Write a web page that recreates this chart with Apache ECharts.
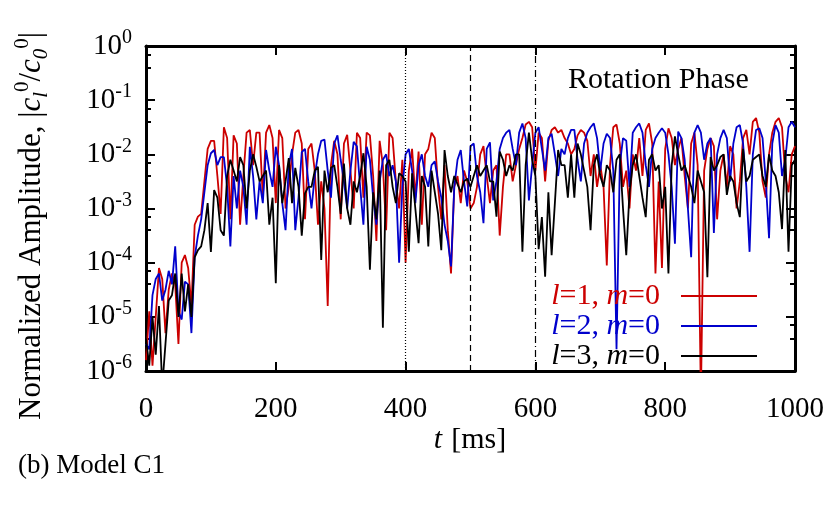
<!DOCTYPE html>
<html>
<head>
<meta charset="utf-8">
<title>Model C1</title>
<script src="https://cdn.jsdelivr.net/npm/echarts@6/dist/echarts.min.js"></script>
<style>
  html, body { margin: 0; padding: 0; background: #fff; }
  #chart { width: 830px; height: 506px; }
</style>
</head>
<body>
<div id="chart"></div>
<script>
// log10 |c_l^0 / c_0^0|, every 5 ms (t = 0 ... 1000)
const l1Exp = [
  -5.8, -4.9, -5.9, -5.0, -4.1, -4.3, -5.3, -4.5, -4.2, -4.4,
  -5.5, -4.0, -3.86, -4.1, -4.8, -3.3, -3.15, -3.1, -2.5, -1.9,
  -1.75, -1.75, -2.4, -3.1, -1.5, -1.7, -3.2, -1.65, -1.8, -3.3,
  -2.4, -1.6, -1.55, -2.2, -1.6, -1.6, -2.8, -1.6, -1.46, -1.7,
  -2.9, -1.55, -1.7, -3.0, -2.6, -2.0, -1.6, -1.55, -1.8, -3.2,
  -1.9, -1.8, -2.3, -3.3, -2.5, -3.0, -4.8, -2.2, -1.75, -2.0,
  -3.2, -1.8, -1.64, -2.3, -3.0, -1.6, -1.7, -2.8, -1.6, -1.65,
  -2.4, -3.6, -1.75, -2.2, -3.4, -1.6, -1.7, -2.5, -3.0, -2.1,
  -4.0, -2.3, -1.9, -2.8, -1.95, -3.3, -2.0, -1.9, -1.6, -1.7,
  -2.6, -3.2, -2.2, -3.4, -4.2, -2.6, -2.4, -2.9, -2.3, -2.5,
  -3.0, -2.9, -2.6, -2.0, -1.85, -2.4, -2.9, -2.3, -2.2, -3.5,
  -2.6, -2.0, -2.0, -2.5, -2.2, -1.9, -1.7, -1.45, -1.4, -1.5,
  -2.3, -1.6, -1.7, -2.5, -1.75, -1.55, -1.5, -1.6, -1.55, -1.7,
  -1.8, -2.0, -1.9, -1.65, -1.55, -1.6, -1.75, -2.4, -2.0, -2.6,
  -2.2, -2.6, -4.05, -2.2, -1.5, -1.45, -1.8, -2.6, -2.3, -3.0,
  -2.0, -2.3, -1.7, -2.4, -1.55, -1.43, -1.8, -4.2, -2.5, -4.1,
  -1.9, -1.52, -1.7, -2.2, -1.9, -1.7, -2.4, -3.0, -1.8, -1.6,
  -2.2, -6.5, -2.3, -1.9, -1.7, -1.85, -3.2, -2.3, -2.0, -2.6,
  -1.85, -2.0, -3.0, -2.5, -1.7, -1.55, -2.0, -1.4, -1.33, -1.6,
  -2.5, -2.8, -2.0, -1.6, -1.4, -1.33, -1.5, -2.4, -2.7, -2.0,
  -1.85
];
const l2Exp = [
  -5.5, -5.6, -4.6, -4.3, -4.2, -4.7, -4.5, -4.15, -4.4, -3.7,
  -4.9, -5.05, -4.35, -4.4, -5.3, -3.9, -3.5, -3.2, -2.7, -2.2,
  -1.98, -1.92, -2.2, -2.05, -2.05, -2.6, -3.7, -2.4, -3.0, -2.3,
  -2.6, -3.3, -1.86, -2.4, -3.2, -2.5, -2.9, -1.92, -2.3, -2.6,
  -1.86, -2.2, -2.9, -3.4, -2.2, -1.9, -3.4, -2.8, -1.96, -1.9,
  -2.5, -3.0, -2.4, -2.0, -1.75, -1.73, -2.3, -2.8, -1.8, -1.65,
  -2.1, -2.5, -3.0, -2.3, -1.77, -1.85, -2.6, -3.3, -1.86, -2.1,
  -2.8, -3.3, -2.5, -2.1, -2.0, -2.4, -2.2, -2.5, -4.0, -2.6,
  -2.0, -1.9, -2.3, -2.9, -2.2, -2.0, -2.4, -2.6, -2.2, -2.13,
  -2.5, -2.8, -3.3, -3.6, -4.07, -2.6, -2.1, -1.92, -2.5, -2.96,
  -1.85, -1.8, -2.4, -2.7, -3.27, -1.9, -1.78, -2.85, -2.5, -1.9,
  -1.7, -1.6, -1.55, -1.9, -2.2, -1.6, -1.43, -1.7, -2.85, -2.2,
  -1.6, -1.5, -1.9, -2.3, -1.7, -1.62, -2.0, -2.4, -1.9, -2.0,
  -1.7, -1.55, -1.55, -2.1, -2.5, -1.8, -1.6, -1.5, -1.43, -1.7,
  -2.3, -1.8, -1.62, -1.7, -2.3, -5.6, -2.2, -1.7, -1.75, -2.6,
  -1.6, -1.5, -1.43, -1.6, -2.2, -2.6, -1.9, -1.7, -1.6, -1.52,
  -1.6, -2.0, -2.6, -3.65, -1.58, -1.7, -2.1, -3.0, -3.9, -1.6,
  -1.46, -1.6, -2.1, -1.8, -1.7, -3.45, -2.0, -1.7, -1.55, -1.7,
  -2.5, -1.8, -1.5, -1.46, -1.8, -2.6, -3.8, -2.0, -1.55, -1.52,
  -1.7, -2.5, -3.55, -1.8, -1.46, -1.6, -2.4, -2.1, -1.5, -1.4,
  -1.5
];
const l3Exp = [
  -5.4, -5.9, -5.0, -5.7, -4.8, -6.3, -5.5, -4.7, -4.6, -4.2,
  -5.0, -4.2, -4.9, -4.4, -5.0, -3.9, -3.77, -3.7, -3.4, -2.9,
  -3.8, -2.66, -2.8, -3.4, -3.5, -2.4, -2.1, -2.3, -2.5, -2.05,
  -2.2, -3.0, -2.3, -2.0, -2.23, -2.5, -2.4, -2.3, -3.3, -2.8,
  -4.38, -2.2, -2.9, -2.5, -2.07, -2.9, -2.25, -2.6, -3.5, -2.72,
  -2.6, -2.6, -2.3, -2.23, -3.95, -2.3, -2.7, -2.25, -2.2, -2.6,
  -3.1, -2.17, -3.0, -3.3, -2.5, -2.7, -2.4, -1.98, -2.6, -4.13,
  -2.7, -3.2, -2.3, -5.2, -2.2, -2.1, -2.6, -2.9, -2.35, -2.4,
  -2.5, -3.8, -2.35, -3.0, -3.64, -2.4, -2.6, -3.7, -2.3, -2.7,
  -3.1, -3.77, -1.92, -2.4, -2.7, -2.4, -2.55, -2.7, -2.5, -2.45,
  -2.6, -2.4, -2.2, -2.4, -2.3, -2.2, -2.5, -2.5, -3.15, -1.95,
  -2.1, -2.4, -2.2, -2.3, -2.0, -2.0, -3.8, -2.2, -1.6, -2.1,
  -2.4, -3.75, -3.16, -4.26, -2.7, -3.86, -2.9, -1.92, -2.2, -2.2,
  -2.8, -2.0, -2.8, -1.8, -2.0, -2.3, -2.6, -3.4, -2.2, -2.0,
  -2.4, -2.6, -2.2, -2.3, -2.7, -2.1, -2.0, -3.0, -3.86, -2.7,
  -2.2, -2.0, -2.4, -2.8, -3.16, -2.1, -2.0, -2.3, -2.2, -3.0,
  -2.6, -4.2, -2.2, -1.67, -2.0, -2.3, -2.2, -2.4, -2.6, -2.9,
  -2.3, -2.5, -2.7, -4.27, -2.05, -2.3, -2.2, -2.05, -2.0, -2.75,
  -2.4, -2.5, -2.9, -3.16, -1.9, -2.5, -2.4, -2.1, -2.05, -2.0,
  -2.4, -2.6, -2.0, -2.3, -2.4, -2.7, -3.38, -1.92, -3.8, -2.2,
  -2.1
];

const seriesNames = ['l=1, m=0', 'l=2, m=0', 'l=3, m=0'];
const seriesColors = ['#cc0000', '#0000cc', '#000000'];
const phaseTimes = [400, 500, 600]; // ms, dotted / dashed / dash-dot
const phaseDash = [[1, 2], [6, 4], [7, 3, 1, 3]];

const FONT = 'Liberation Serif';
const chart = echarts.init(document.getElementById('chart'));

function toPoints(exps) {
  return exps.map((e, i) => [i * 5, Math.pow(10, e)]);
}

const frame = {
  axisLine: { show: true, onZero: false, lineStyle: { color: '#000', width: 3 } },
  axisTick: { show: true, inside: true, length: 9, lineStyle: { color: '#000', width: 2 } },
  splitLine: { show: false }
};

const xBase = Object.assign({ type: 'value', min: 0, max: 1000, interval: 200 }, frame);
const yBase = Object.assign({
  type: 'log', logBase: 10, min: 1e-6, max: 1, splitNumber: 6,
  minorTick: { show: true, splitNumber: 3, length: 5, lineStyle: { color: '#000', width: 2 } },
  minorSplitLine: { show: false }
}, frame);

const sup = { fontFamily: FONT, fontSize: 20, verticalAlign: 'top', lineHeight: 20 };
const legendRich = {};
['r', 'b', 'k'].forEach((k, i) => {
  legendRich[k] = { fontFamily: FONT, fontSize: 30, color: seriesColors[i] };
  legendRich[k + 'i'] = { fontFamily: FONT, fontSize: 30, fontStyle: 'italic', color: seriesColors[i] };
  legendRich[k + 'e'] = { fontFamily: FONT, fontSize: 30, color: seriesColors[i], padding: [0, 16, 0, 0] };
});

chart.setOption({
  animation: false,
  backgroundColor: '#fff',
  grid: { left: 146, right: 35, top: 46, bottom: 135 },
  xAxis: [
    Object.assign({}, xBase, {
      position: 'bottom',
      axisLabel: { color: '#000', fontFamily: FONT, fontSize: 29, margin: 24, formatter: v => String(v) }
    }),
    Object.assign({}, xBase, { position: 'top', axisLabel: { show: false } })
  ],
  yAxis: [
    Object.assign({}, yBase, {
      position: 'left',
      axisLabel: {
        margin: 14,
        formatter: v => '{b|10}{s|' + Math.round(Math.log10(v)) + '}',
        rich: {
          b: { fontFamily: FONT, fontSize: 29, color: '#000', lineHeight: 36 },
          s: Object.assign({ color: '#000' }, sup)
        }
      }
    }),
    Object.assign({}, yBase, { position: 'right', axisLabel: { show: false } })
  ],
  legend: {
    orient: 'vertical',
    right: 68,
    top: 276,
    align: 'right',
    icon: 'rect',
    itemWidth: 76,
    itemHeight: 2,
    itemGap: 0,
    data: seriesNames,
    formatter: name => {
      const k = ['r', 'b', 'k'][seriesNames.indexOf(name)];
      const n = seriesNames.indexOf(name) + 1;
      return '{' + k + 'i|l}{' + k + '|=' + n + ', }{' + k + 'i|m}{' + k + 'e|=0}';
    },
    textStyle: { fontFamily: FONT, fontSize: 30, lineHeight: 29, rich: legendRich }
  },
  graphic: [
    {
      type: 'text', x: 32, y: 420, rotation: Math.PI / 2,
      style: {
        text: '{n|Normalized Amplitude, |}{i|c}{d|l}{u|0}{n|/}{i|c}{d|0}{u|0}{n||}',
        align: 'left', verticalAlign: 'middle', fill: '#000',
        rich: {
          n: { fontFamily: FONT, fontSize: 31, lineHeight: 40 },
          i: { fontFamily: FONT, fontSize: 31, fontStyle: 'italic', lineHeight: 40 },
          d: { fontFamily: FONT, fontSize: 21, fontStyle: 'italic', verticalAlign: 'bottom', lineHeight: 24 },
          u: { fontFamily: FONT, fontSize: 21, verticalAlign: 'top', lineHeight: 20 }
        }
      }
    },
    {
      type: 'text', x: 568, y: 80,
      style: { text: 'Rotation Phase', fontFamily: FONT, fontSize: 30, fill: '#000', verticalAlign: 'middle' }
    },
    {
      type: 'text', x: 470, y: 440,
      style: {
        text: '{i|t}{n|[ms]}', align: 'center', verticalAlign: 'middle', fill: '#000',
        rich: {
          i: { fontFamily: FONT, fontSize: 30, fontStyle: 'italic', padding: [0, 9, 0, 0] },
          n: { fontFamily: FONT, fontSize: 30 }
        }
      }
    },
    {
      type: 'text', x: 18, y: 466,
      style: { text: '(b) Model C1', fontFamily: FONT, fontSize: 27, fill: '#000', verticalAlign: 'middle' }
    }
  ],
  series: [l1Exp, l2Exp, l3Exp].map((exps, i) => {
    const s = {
      name: seriesNames[i],
      type: 'line',
      data: toPoints(exps),
      showSymbol: false,
      symbol: 'none',
      clip: true,
      lineStyle: { color: seriesColors[i], width: 1.8 },
      itemStyle: { color: seriesColors[i] }
    };
    if (i === 0) {
      s.markLine = {
        silent: true,
        symbol: ['none', 'none'],
        label: { show: false },
        data: phaseTimes.map((t, j) => ({
          xAxis: t,
          lineStyle: { color: '#000', width: 1.2, type: phaseDash[j] }
        }))
      };
    }
    return s;
  })
});
</script>
</body>
</html>
